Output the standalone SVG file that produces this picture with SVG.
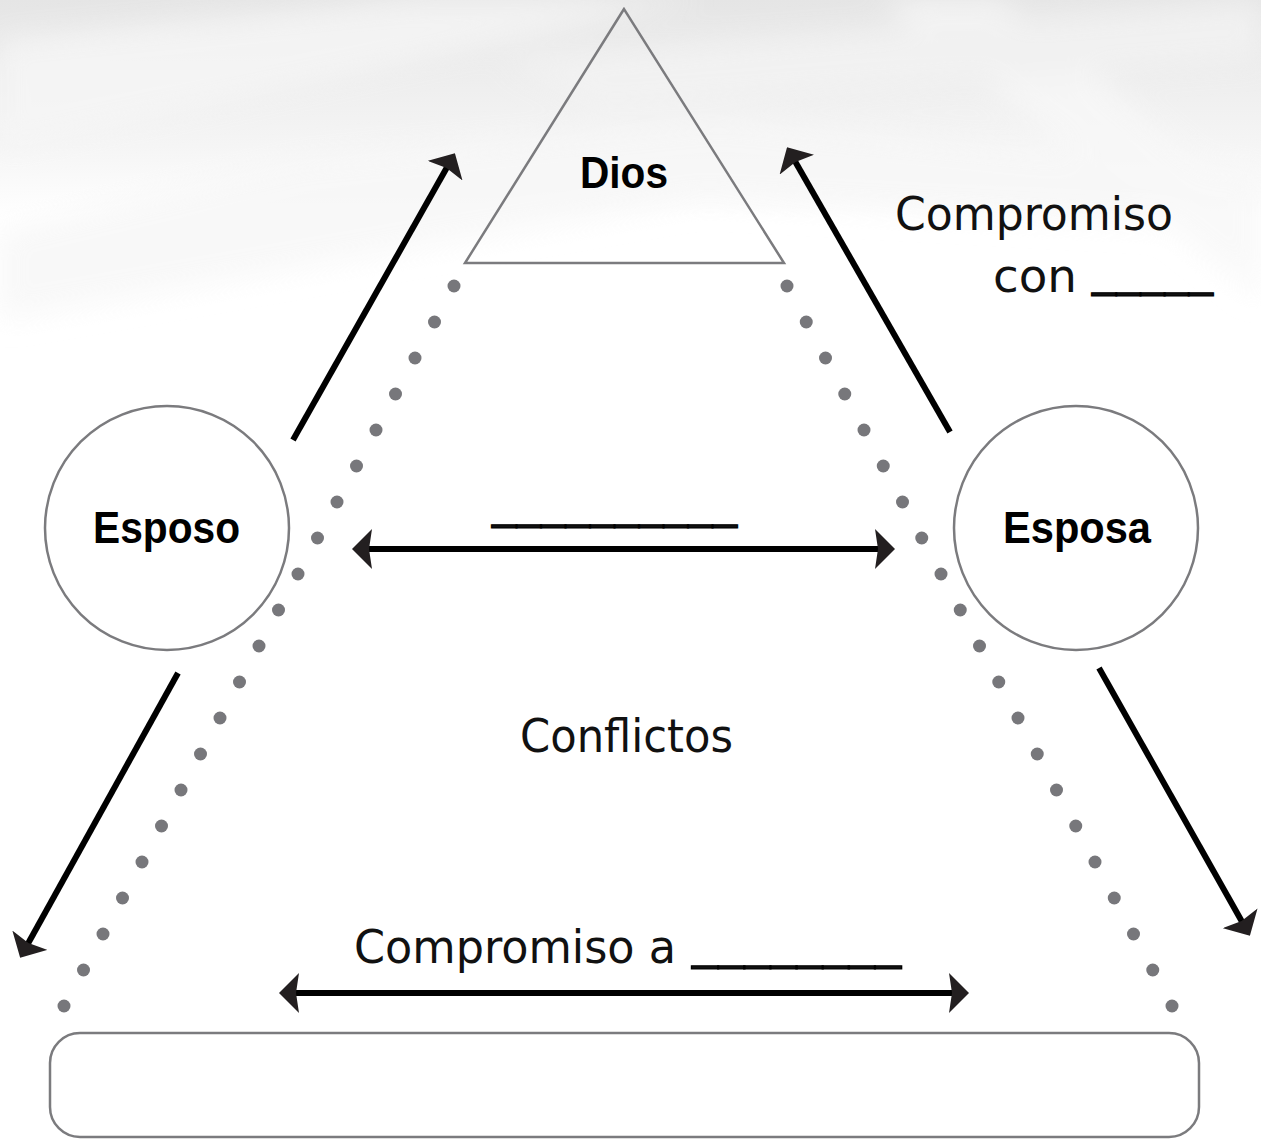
<svg xmlns="http://www.w3.org/2000/svg" width="1261" height="1139" viewBox="0 0 1261 1139">
  <defs>
    <linearGradient id="bg" x1="0" y1="0" x2="0" y2="1">
      <stop offset="0" stop-color="#e5e5e5"/>
      <stop offset="0.12" stop-color="#ececec"/>
      <stop offset="0.28" stop-color="#f5f5f5"/>
      <stop offset="0.42" stop-color="#ffffff"/>
      <stop offset="1" stop-color="#ffffff"/>
    </linearGradient>
    <filter id="blur" x="-20%" y="-20%" width="140%" height="140%">
      <feGaussianBlur stdDeviation="14"/>
    </filter>
    <marker id="ah" viewBox="0 0 20 40" refX="10" refY="20" markerWidth="20" markerHeight="40" markerUnits="userSpaceOnUse" orient="auto-start-reverse">
      <path d="M0,0 L20,20 L0,40 L3,20 Z" fill="#231f20"/>
    </marker>
    <style>
      .dot { fill: #77777b; }
      .shape { fill: none; stroke: #7b7b7e; stroke-width: 2.5; }
      .node { fill: #ffffff; stroke: #7b7b7e; stroke-width: 2.5; }
      .arrow { fill: none; stroke: #000000; stroke-width: 6; }
      .lbl { font-family: "DejaVu Sans", "Liberation Sans", sans-serif; font-size: 46px; fill: #111111; }
      .bold { font-family: "Liberation Sans", Arial, sans-serif; font-size: 45px; font-weight: bold; fill: #000000; }
      .blank { stroke: #000000; stroke-width: 1.2; }
    </style>
  </defs>

  <!-- background -->
  <rect x="0" y="0" width="1261" height="1139" fill="#ffffff"/>
  <rect x="0" y="0" width="1261" height="520" fill="url(#bg)"/>
  <g filter="url(#blur)" opacity="0.8">
    <polygon points="0,40 420,0 700,0 0,150" fill="#f6f6f6"/>
    <polygon points="0,230 300,160 720,120 1261,170 1261,230 700,200 0,320" fill="#f7f7f7"/>
    <polygon points="880,0 1000,0 1261,210 1261,300" fill="#f8f8f8"/>
    <polygon points="500,60 1261,0 1261,60 600,110" fill="#f3f3f3"/>
  </g>

  <!-- dotted triangle sides -->
  <g id="dots-left">
    <circle class="dot" cx="454" cy="286" r="6.5"/>
    <circle class="dot" cx="434.5" cy="322" r="6.5"/>
    <circle class="dot" cx="415" cy="358" r="6.5"/>
    <circle class="dot" cx="395.5" cy="394" r="6.5"/>
    <circle class="dot" cx="376" cy="430" r="6.5"/>
    <circle class="dot" cx="356.5" cy="466" r="6.5"/>
    <circle class="dot" cx="337" cy="502" r="6.5"/>
    <circle class="dot" cx="317.5" cy="538" r="6.5"/>
    <circle class="dot" cx="298" cy="574" r="6.5"/>
    <circle class="dot" cx="278.5" cy="610" r="6.5"/>
    <circle class="dot" cx="259" cy="646" r="6.5"/>
    <circle class="dot" cx="239.5" cy="682" r="6.5"/>
    <circle class="dot" cx="220" cy="718" r="6.5"/>
    <circle class="dot" cx="200.5" cy="754" r="6.5"/>
    <circle class="dot" cx="181" cy="790" r="6.5"/>
    <circle class="dot" cx="161.5" cy="826" r="6.5"/>
    <circle class="dot" cx="142" cy="862" r="6.5"/>
    <circle class="dot" cx="122.5" cy="898" r="6.5"/>
    <circle class="dot" cx="103" cy="934" r="6.5"/>
    <circle class="dot" cx="83.5" cy="970" r="6.5"/>
    <circle class="dot" cx="64" cy="1006" r="6.5"/>
  </g>
  <g id="dots-right">
    <circle class="dot" cx="787" cy="286" r="6.5"/>
    <circle class="dot" cx="806.25" cy="322" r="6.5"/>
    <circle class="dot" cx="825.5" cy="358" r="6.5"/>
    <circle class="dot" cx="844.75" cy="394" r="6.5"/>
    <circle class="dot" cx="864" cy="430" r="6.5"/>
    <circle class="dot" cx="883.25" cy="466" r="6.5"/>
    <circle class="dot" cx="902.5" cy="502" r="6.5"/>
    <circle class="dot" cx="921.75" cy="538" r="6.5"/>
    <circle class="dot" cx="941" cy="574" r="6.5"/>
    <circle class="dot" cx="960.25" cy="610" r="6.5"/>
    <circle class="dot" cx="979.5" cy="646" r="6.5"/>
    <circle class="dot" cx="998.75" cy="682" r="6.5"/>
    <circle class="dot" cx="1018" cy="718" r="6.5"/>
    <circle class="dot" cx="1037.25" cy="754" r="6.5"/>
    <circle class="dot" cx="1056.5" cy="790" r="6.5"/>
    <circle class="dot" cx="1075.75" cy="826" r="6.5"/>
    <circle class="dot" cx="1095" cy="862" r="6.5"/>
    <circle class="dot" cx="1114.25" cy="898" r="6.5"/>
    <circle class="dot" cx="1133.5" cy="934" r="6.5"/>
    <circle class="dot" cx="1152.75" cy="970" r="6.5"/>
    <circle class="dot" cx="1172" cy="1006" r="6.5"/>
  </g>

  <!-- nodes -->
  <g id="dios">
    <polygon class="shape" points="624,9 465,263 784,263"/>
    <text class="bold" x="580" y="188" textLength="88" lengthAdjust="spacingAndGlyphs">Dios</text>
  </g>
  <g id="esposo">
    <circle class="node" cx="167" cy="528" r="122"/>
    <text class="bold" x="93" y="543" textLength="147" lengthAdjust="spacingAndGlyphs">Esposo</text>
  </g>
  <g id="esposa">
    <circle class="node" cx="1076" cy="528" r="122"/>
    <text class="bold" x="1003" y="543" textLength="148" lengthAdjust="spacingAndGlyphs">Esposa</text>
  </g>
  <g id="base">
    <rect class="node" x="50" y="1033" width="1149" height="104" rx="30" ry="30"/>
  </g>

  <!-- connectors -->
  <g id="connectors">
    <line class="arrow" x1="293" y1="440" x2="450" y2="162" marker-end="url(#ah)"/>
    <line class="arrow" x1="950" y1="432" x2="792" y2="156" marker-end="url(#ah)"/>
    <line class="arrow" x1="178" y1="673" x2="25" y2="949" marker-end="url(#ah)"/>
    <line class="arrow" x1="1099" y1="668" x2="1245" y2="927" marker-end="url(#ah)"/>
    <line class="arrow" x1="362" y1="549" x2="885" y2="549" marker-start="url(#ah)" marker-end="url(#ah)"/>
    <line class="arrow" x1="289" y1="993" x2="959" y2="993" marker-start="url(#ah)" marker-end="url(#ah)"/>
  </g>

  <!-- labels -->
  <g id="labels">
    <text class="lbl" x="895" y="230" textLength="278" lengthAdjust="spacingAndGlyphs">Compromiso</text>
    <text class="lbl"><tspan x="993" y="292" textLength="84" lengthAdjust="spacingAndGlyphs">con</tspan><tspan class="blank" x="1092" y="285" textLength="121" lengthAdjust="spacingAndGlyphs">_____</tspan></text>
    <text class="lbl blank" x="492" y="517" textLength="245" lengthAdjust="spacingAndGlyphs">__________</text>
    <text class="lbl" x="520" y="752" textLength="213" lengthAdjust="spacingAndGlyphs">Conflictos</text>
    <text class="lbl"><tspan x="354" y="963" textLength="322" lengthAdjust="spacingAndGlyphs">Compromiso a</tspan><tspan class="blank" x="692" y="958" textLength="209" lengthAdjust="spacingAndGlyphs">________</tspan></text>
  </g>
</svg>
